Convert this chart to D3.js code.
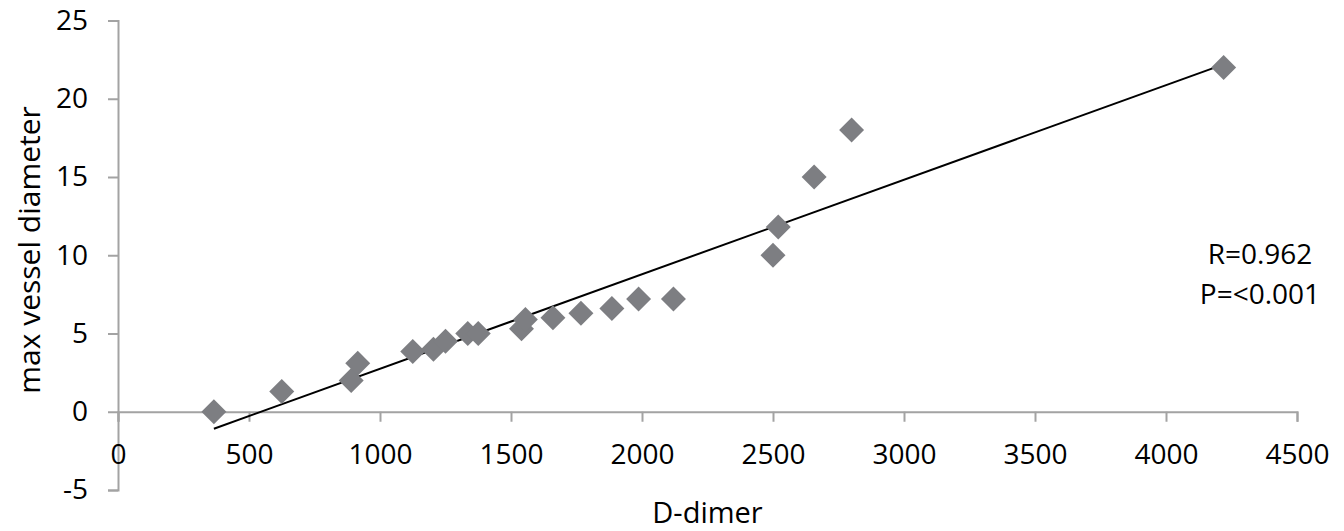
<!DOCTYPE html>
<html>
<head>
<meta charset="utf-8">
<script src="https://cdn.jsdelivr.net/npm/d3@7"></script>
<style>
  body { margin: 0; background: #fff; }
  text { font-family: "Open Sans", sans-serif; fill: #000; }
</style>
</head>
<body>
<div id="chart"></div>
<script>
// D-dimer vs max vessel diameter
var dDimer = [366, 625, 890, 915, 1125, 1204, 1250, 1335, 1375, 1540, 1555, 1660, 1767, 1885, 1987, 2120, 2500, 2520, 2657, 2800, 4220];
var vesselDiameter = [0, 1.3, 2, 3.1, 3.85, 4, 4.5, 5, 5, 5.3, 5.9, 6, 6.3, 6.6, 7.2, 7.2, 10, 11.8, 15, 18, 22];
var xTicks = [0, 500, 1000, 1500, 2000, 2500, 3000, 3500, 4000, 4500];
var yTicks = [-5, 0, 5, 10, 15, 20, 25];
var statsLines = ["R=0.962", "P=<0.001"];

const width = 1344, height = 531;
const margin = ({ top: 20.5, right: 47, bottom: 41, left: 118 });

var svg = d3.select("#chart").append("svg")
    .attr("width", width)
    .attr("height", height);

var x = d3.scaleLinear()
    .domain([0, 4500])
    .range([margin.left, width - margin.right]);

var y = d3.scaleLinear()
    .domain([-5, 25])
    .range([height - margin.bottom, margin.top]);

var axisColor = "#a3a3a3";

// y axis (plain hyphen for negatives, like Excel)
var yAxis = svg.append("g")
    .attr("transform", `translate(${margin.left},0)`)
    .call(d3.axisLeft(y).tickValues(yTicks).tickSize(10).tickPadding(20).tickFormat(d => String(d)));

// x axis crosses at y = 0
var xAxis = svg.append("g")
    .attr("transform", `translate(0,${y(0)})`)
    .call(d3.axisBottom(x).tickValues(xTicks).tickSize(10).tickPadding(22).tickFormat(d => String(d)));

[xAxis, yAxis].forEach(function(g) {
    g.selectAll("path, line").attr("stroke", axisColor).attr("stroke-width", 2);
    g.selectAll("text").style("font-size", "28px").attr("fill", "#000");
});

// trend line (least squares over the points)
var points = dDimer.map((d, i) => ({ x: d, y: vesselDiameter[i] }));
var mx = d3.mean(points, d => d.x), my = d3.mean(points, d => d.y);
var slope = d3.sum(points, d => (d.x - mx) * (d.y - my)) / d3.sum(points, d => (d.x - mx) * (d.x - mx));
var intercept = my - slope * mx;
var xExt = d3.extent(dDimer);

svg.append("line")
    .attr("x1", x(xExt[0])).attr("y1", y(intercept + slope * xExt[0]))
    .attr("x2", x(xExt[1])).attr("y2", y(intercept + slope * xExt[1]))
    .attr("stroke", "#000")
    .attr("stroke-width", 2);

// diamonds
svg.append("g").selectAll("path")
    .data(points)
    .enter()
    .append("path")
    .attr("d", d3.symbol(d3.symbolSquare, 312))
    .attr("transform", d => `translate(${x(d.x)},${y(d.y)}) rotate(45)`)
    .attr("fill", "#7d7e82");

// axis titles
svg.append("text")
    .attr("x", (x.range()[0] + x.range()[1]) / 2)
    .attr("y", 523)
    .attr("text-anchor", "middle")
    .style("font-size", "29px")
    .text("D-dimer");

svg.append("text")
    .attr("transform", "translate(40,250) rotate(-90)")
    .attr("text-anchor", "middle")
    .style("font-size", "30px")
    .text("max vessel diameter");

// stats box
svg.append("g").selectAll("text")
    .data(statsLines)
    .enter()
    .append("text")
    .attr("x", 1260)
    .attr("y", (d, i) => 264 + i * 40)
    .attr("text-anchor", "middle")
    .style("font-size", "28px")
    .text(d => d);
</script>
</body>
</html>
